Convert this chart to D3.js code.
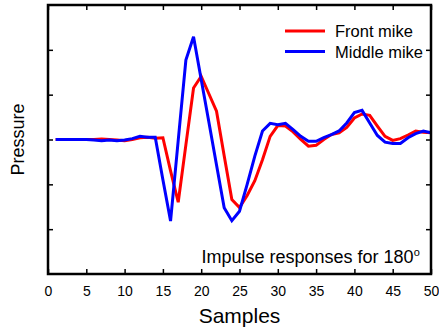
<!DOCTYPE html>
<html>
<head>
<meta charset="utf-8">
<script src="https://cdn.jsdelivr.net/npm/d3@7"></script>
<style>
  body { margin: 0; background: #fff; }
  svg text { font-family: "Liberation Sans", Arial, sans-serif; fill: #000; }
</style>
</head>
<body>
<div class="chart"></div>
<script>
var svgWidth = 439;
var svgHeight = 332;

var margin = { top: 5, right: 8, bottom: 58, left: 48 };

var width = svgWidth - margin.left - margin.right;
var height = svgHeight - margin.top - margin.bottom;

// samples 1..50
var samples = d3.range(1, 51);

var frontMike = [
  0, 0, 0, 0, 0, 0, 0.01, 0, -0.01, -0.03,
  0, 0.04, 0.05, 0.03, 0.04, -0.7, -1.40, -0.12, 1.15, 1.41,
  1.02, 0.63, -0.36, -1.34, -1.52, -1.25, -0.92, -0.45, 0.07, 0.31,
  0.30, 0.17, 0.0, -0.15, -0.13, 0.0, 0.11, 0.15, 0.27, 0.48,
  0.57, 0.54, 0.30, 0.07, -0.02, 0.02, 0.10, 0.19, 0.16, 0.15
];

var middleMike = [
  0, 0, 0, 0, 0, -0.01, -0.03, -0.01, -0.03, -0.01,
  0.02, 0.07, 0.05, 0.05, -0.9, -1.82, -0.02, 1.77, 2.29, 1.34,
  0.39, -0.57, -1.52, -1.81, -1.60, -1.0, -0.37, 0.19, 0.36, 0.33,
  0.36, 0.22, 0.07, -0.04, -0.04, 0.04, 0.11, 0.19, 0.37, 0.60,
  0.65, 0.37, 0.09, -0.06, -0.09, -0.09, 0.04, 0.13, 0.19, 0.15
];

var xTicks = [0, 5, 10, 15, 20, 25, 30, 35, 40, 45, 50];
var yTicks = [-2, -1, 0, 1, 2];

var seriesNames = ["Front mike", "Middle mike"];
var seriesColors = ["#ff0000", "#0000ff"];

var svg = d3.select(".chart")
  .append("svg")
  .attr("width", svgWidth)
  .attr("height", svgHeight);

var chartGroup = svg.append("g")
  .attr("transform", `translate(${margin.left}, ${margin.top})`);

var xScale = d3.scaleLinear().domain([0, 50]).range([0, width]);
var yScale = d3.scaleLinear().domain([-3, 3]).range([height, 0]);

// axes, ticks pointing inward
var bottomAxis = d3.axisBottom(xScale).tickValues(xTicks).tickSize(-5).tickPadding(12);
var topAxis = d3.axisTop(xScale).tickValues(xTicks).tickSize(-5).tickFormat("");
var leftAxis = d3.axisLeft(yScale).tickValues(yTicks).tickSize(-5).tickFormat("");
var rightAxis = d3.axisRight(yScale).tickValues(yTicks).tickSize(-5).tickFormat("");

function styleAxis(g) {
  g.select(".domain").remove();
  g.selectAll(".tick line").attr("stroke", "#000").attr("stroke-width", 1.5);
  g.selectAll(".tick text")
    .style("font-family", "'Liberation Sans', Arial, sans-serif")
    .style("font-size", "14px")
    .attr("fill", "#000");
}

chartGroup.append("g")
  .attr("transform", `translate(0, ${height})`)
  .call(bottomAxis)
  .call(styleAxis);

chartGroup.append("g")
  .call(topAxis)
  .call(styleAxis);

chartGroup.append("g")
  .call(leftAxis)
  .call(styleAxis);

chartGroup.append("g")
  .attr("transform", `translate(${width}, 0)`)
  .call(rightAxis)
  .call(styleAxis);

// lines
var line = d3.line()
  .x((d, i) => xScale(samples[i]))
  .y(d => yScale(d));

[frontMike, middleMike].forEach(function(data, k) {
  chartGroup.append("path")
    .datum(data)
    .attr("fill", "none")
    .attr("stroke", seriesColors[k])
    .attr("stroke-width", 3)
    .attr("stroke-linejoin", "miter")
    .attr("d", line);
});

// frame
chartGroup.append("rect")
  .attr("x", 0)
  .attr("y", 0)
  .attr("width", width)
  .attr("height", height)
  .attr("fill", "none")
  .attr("stroke", "#000")
  .attr("stroke-width", 2.5);

// legend
var legend = chartGroup.append("g")
  .attr("transform", "translate(237, 26)");

seriesNames.forEach(function(name, k) {
  var row = legend.append("g").attr("transform", `translate(0, ${k * 20.5})`);
  row.append("line")
    .attr("x1", 0).attr("x2", 40)
    .attr("y1", 0).attr("y2", 0)
    .attr("stroke", seriesColors[k])
    .attr("stroke-width", 3);
  row.append("text")
    .attr("x", 50)
    .attr("y", 6)
    .style("font-size", "16.5px")
    .text(name);
});

// annotation
var note = chartGroup.append("text")
  .attr("x", 153.5)
  .attr("y", 257.5)
  .style("font-size", "18px")
  .text("Impulse responses for 180");
note.append("tspan")
  .attr("dy", -7)
  .style("font-size", "11px")
  .text("o");

// axis labels
svg.append("text")
  .attr("x", margin.left + width / 2)
  .attr("y", 323)
  .attr("text-anchor", "middle")
  .style("font-size", "21px")
  .text("Samples");

svg.append("text")
  .attr("transform", `translate(24, ${margin.top + height / 2}) rotate(-90)`)
  .attr("text-anchor", "middle")
  .style("font-size", "18px")
  .text("Pressure");
</script>
</body>
</html>
